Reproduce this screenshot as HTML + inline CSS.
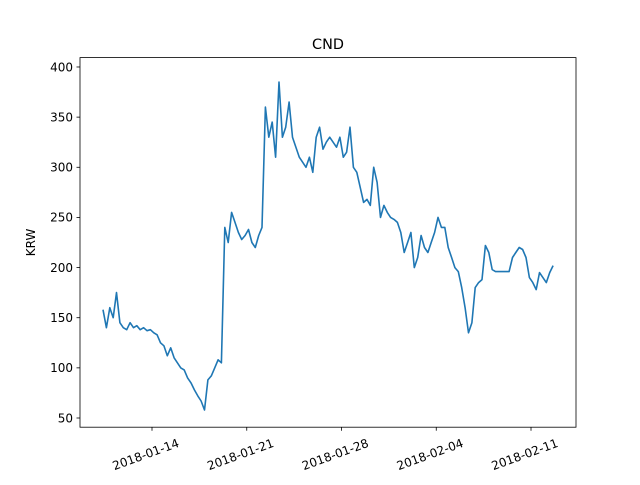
<!DOCTYPE html>
<html><head><meta charset="utf-8"><style>
body{margin:0;background:#fff}
svg text{font-family:"DejaVu Sans","Liberation Sans",sans-serif;font-size:12px;fill:#000}
</style></head><body>
<svg id="chart" width="640" height="480" xmlns="http://www.w3.org/2000/svg">
<rect width="640" height="480" fill="#fff"/>
<text x="328" y="49" text-anchor="middle" style="font-size:14.4px">CND</text>
<text transform="translate(35,242.4) rotate(-90)" text-anchor="middle">KRW</text>
<g id="axes"></g>
<path id="line" fill="none" stroke="#1f77b4" stroke-width="1.6" stroke-linejoin="round"/>
<rect x="80" y="57.6" width="496" height="369.6" fill="none" stroke="#000" stroke-width="0.8"/>
</svg>
<script>
const startDay = -3.62; // days relative to 2018-01-14
const stepDays = 0.25;
const values = [158,140,160,150,175,145,140,138,145,140,142,138,140,137,138,135,133,125,122,112,120,110,105,100,98,90,85,78,72,67,58,88,92,100,108,105,240,225,255,245,235,228,232,238,225,220,232,240,360,330,345,310,385,330,340,365,330,320,310,305,300,310,295,330,340,318,325,330,325,320,330,310,315,340,300,295,280,265,268,262,300,285,250,262,255,250,248,245,235,215,225,235,200,210,232,220,215,225,235,250,240,240,220,210,200,196,180,160,135,145,180,185,188,222,215,198,196,196,196,196,196,210,215,220,218,210,190,185,178,195,190,185,195,202];
const yTicks = [50,100,150,200,250,300,350,400];
const xTickDays = [0,7,14,21,28];
const xTickLabels = ["2018-01-14","2018-01-21","2018-01-28","2018-02-04","2018-02-11"];

const xS = d => 152 + d * 13.536;
const yS = v => 418 - (v - 50) * 1.0029;
const ns = "http://www.w3.org/2000/svg";
const axes = document.getElementById('axes');
function mk(tag, attrs){const e=document.createElementNS(ns,tag);for(const k in attrs)e.setAttribute(k,attrs[k]);axes.appendChild(e);return e;}
yTicks.forEach(v=>{
  const y=yS(v);
  const t=mk('line',{x1:76.5,x2:80,y1:y,y2:y,stroke:'#000','stroke-width':0.8});
  
  
  const l=mk('text',{x:73,y:y+4.3,'text-anchor':'end'});
  
  
  l.textContent=v;
});
xTickDays.forEach((d,i)=>{
  const x=xS(d);
  const t=mk('line',{x1:x,x2:x,y1:427.2,y2:430.7,stroke:'#000','stroke-width':0.8});
  
  
  const l=mk('text',{transform:`translate(${x-6},${455}) rotate(-20)`,'text-anchor':'middle','dominant-baseline':'middle'});
  
  
  l.textContent=xTickLabels[i];
});
document.getElementById('line').setAttribute('d',values.map((v,i)=>(i?'L':'M')+xS(startDay+i*stepDays).toFixed(1)+','+yS(v).toFixed(1)).join(''));
</script>
</body></html>
